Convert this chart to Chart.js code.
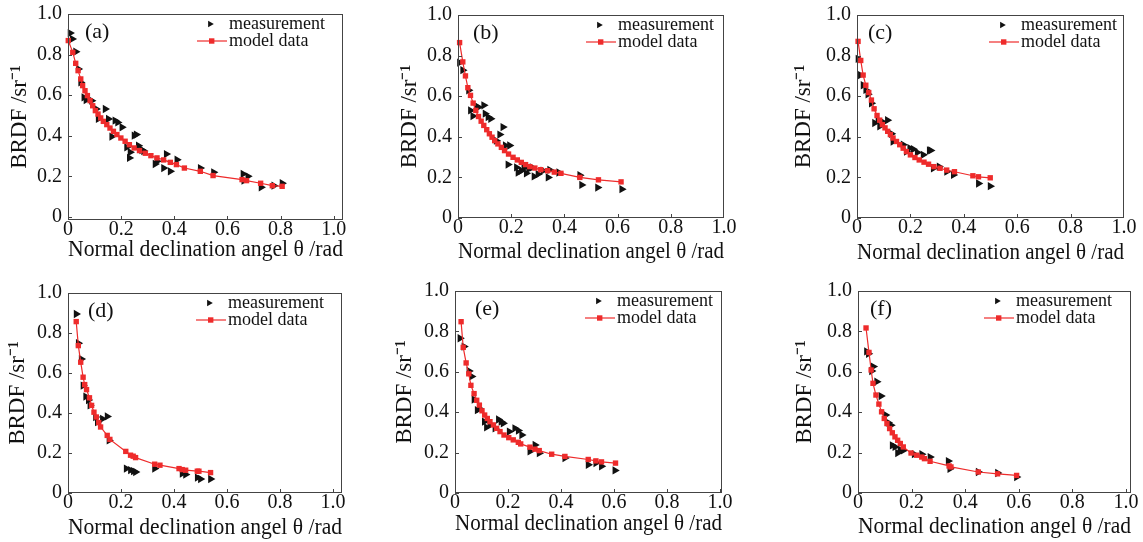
<!DOCTYPE html>
<html lang="en">
<head>
<meta charset="UTF-8">
<title>BRDF vs normal declination angle</title>
<style>
    body {
        margin: 0;
        background: #fff;
        width: 1143px;
        height: 542px;
        overflow: hidden;
        position: relative;
    }
    .panel {
        position: absolute;
    }
</style>
<script src="https://cdn.jsdelivr.net/npm/chart.js"></script>
</head>
<body>
<script>
// tick labels shared by every panel
const xTicks = [0, 0.2, 0.4, 0.6, 0.8, 1.0];
const yTicks = [0, 0.2, 0.4, 0.6, 0.8, 1.0];
const panelLabels = ['(a)', '(b)', '(c)', '(d)', '(e)', '(f)'];
const seriesNames = ['measurement', 'model data'];

// (a)
const aMeasX = [0.008, 0.016, 0.029, 0.039, 0.048, 0.060, 0.068, 0.089, 0.106, 0.114, 0.140, 0.152, 0.177, 0.187, 0.165, 0.203, 0.221, 0.234, 0.231, 0.249, 0.257, 0.265, 0.278, 0.285, 0.328, 0.335, 0.360, 0.370, 0.385, 0.410, 0.498, 0.548, 0.659, 0.677, 0.662, 0.727, 0.775, 0.806];
const aMeasY = [0.906, 0.877, 0.814, 0.729, 0.663, 0.589, 0.576, 0.573, 0.532, 0.483, 0.532, 0.483, 0.475, 0.466, 0.396, 0.442, 0.343, 0.319, 0.291, 0.401, 0.406, 0.351, 0.330, 0.325, 0.261, 0.274, 0.241, 0.310, 0.225, 0.282, 0.241, 0.220, 0.212, 0.200, 0.179, 0.146, 0.154, 0.166];
const aModelX = [0.001, 0.018, 0.029, 0.038, 0.048, 0.055, 0.064, 0.073, 0.083, 0.093, 0.103, 0.113, 0.123, 0.133, 0.146, 0.158, 0.171, 0.184, 0.199, 0.215, 0.231, 0.249, 0.269, 0.291, 0.312, 0.335, 0.360, 0.385, 0.408, 0.438, 0.498, 0.546, 0.655, 0.672, 0.725, 0.769, 0.806];
const aModelY = [0.869, 0.811, 0.757, 0.721, 0.680, 0.647, 0.622, 0.598, 0.573, 0.548, 0.524, 0.507, 0.488, 0.471, 0.455, 0.438, 0.422, 0.406, 0.389, 0.373, 0.356, 0.340, 0.327, 0.314, 0.302, 0.291, 0.281, 0.269, 0.258, 0.241, 0.225, 0.204, 0.184, 0.179, 0.166, 0.154, 0.151];

// (b)
const bMeasX = [0.006, 0.018, 0.040, 0.047, 0.056, 0.069, 0.077, 0.097, 0.102, 0.113, 0.123, 0.144, 0.157, 0.169, 0.178, 0.194, 0.188, 0.220, 0.226, 0.238, 0.257, 0.248, 0.266, 0.279, 0.286, 0.301, 0.320, 0.339, 0.345, 0.379, 0.458, 0.465, 0.525, 0.616];
const bMeasY = [0.765, 0.728, 0.629, 0.530, 0.502, 0.550, 0.546, 0.555, 0.514, 0.497, 0.489, 0.381, 0.411, 0.448, 0.357, 0.357, 0.263, 0.249, 0.224, 0.233, 0.220, 0.246, 0.241, 0.249, 0.205, 0.216, 0.233, 0.200, 0.237, 0.224, 0.211, 0.163, 0.150, 0.142];
const bModelX = [0.006, 0.018, 0.028, 0.037, 0.047, 0.057, 0.067, 0.077, 0.087, 0.097, 0.108, 0.118, 0.128, 0.138, 0.150, 0.163, 0.175, 0.190, 0.207, 0.223, 0.238, 0.254, 0.270, 0.289, 0.311, 0.337, 0.362, 0.387, 0.458, 0.528, 0.613];
const bModelY = [0.864, 0.769, 0.700, 0.642, 0.604, 0.566, 0.530, 0.500, 0.477, 0.456, 0.435, 0.415, 0.398, 0.381, 0.365, 0.348, 0.332, 0.315, 0.299, 0.286, 0.274, 0.263, 0.253, 0.246, 0.238, 0.233, 0.226, 0.220, 0.200, 0.188, 0.178];

// (c)
const cMeasX = [0.004, 0.013, 0.023, 0.033, 0.041, 0.054, 0.066, 0.079, 0.085, 0.098, 0.114, 0.129, 0.135, 0.173, 0.185, 0.198, 0.211, 0.226, 0.248, 0.271, 0.276, 0.286, 0.308, 0.336, 0.361, 0.455, 0.499];
const cMeasY = [0.784, 0.704, 0.654, 0.631, 0.609, 0.565, 0.468, 0.482, 0.452, 0.472, 0.482, 0.415, 0.377, 0.361, 0.327, 0.344, 0.339, 0.323, 0.311, 0.333, 0.333, 0.245, 0.253, 0.228, 0.212, 0.170, 0.157];
const cModelX = [0.004, 0.014, 0.023, 0.033, 0.044, 0.054, 0.064, 0.075, 0.085, 0.095, 0.105, 0.115, 0.125, 0.135, 0.148, 0.160, 0.173, 0.185, 0.200, 0.217, 0.233, 0.251, 0.268, 0.288, 0.311, 0.336, 0.365, 0.434, 0.455, 0.499];
const cModelY = [0.870, 0.776, 0.704, 0.654, 0.618, 0.581, 0.538, 0.505, 0.482, 0.460, 0.444, 0.427, 0.411, 0.394, 0.377, 0.361, 0.344, 0.327, 0.311, 0.298, 0.286, 0.275, 0.265, 0.253, 0.245, 0.236, 0.228, 0.208, 0.203, 0.198];

// (d)
const dMeasX = [0.031, 0.039, 0.050, 0.057, 0.067, 0.077, 0.083, 0.104, 0.111, 0.130, 0.148, 0.155, 0.220, 0.236, 0.247, 0.255, 0.327, 0.431, 0.444, 0.488, 0.500, 0.538];
const dMeasY = [0.895, 0.749, 0.670, 0.537, 0.482, 0.465, 0.438, 0.380, 0.355, 0.371, 0.383, 0.263, 0.122, 0.114, 0.109, 0.105, 0.122, 0.097, 0.092, 0.077, 0.070, 0.070];
const dModelX = [0.031, 0.039, 0.048, 0.057, 0.063, 0.070, 0.081, 0.089, 0.098, 0.107, 0.116, 0.123, 0.148, 0.158, 0.218, 0.236, 0.246, 0.255, 0.327, 0.347, 0.419, 0.431, 0.444, 0.488, 0.494, 0.538];
const dModelY = [0.857, 0.737, 0.654, 0.579, 0.542, 0.517, 0.476, 0.438, 0.404, 0.380, 0.352, 0.330, 0.288, 0.268, 0.208, 0.189, 0.184, 0.177, 0.144, 0.139, 0.122, 0.117, 0.114, 0.109, 0.109, 0.102];

// (e)
const eMeasX = [0.019, 0.034, 0.053, 0.063, 0.072, 0.084, 0.092, 0.111, 0.119, 0.132, 0.151, 0.164, 0.174, 0.182, 0.205, 0.226, 0.239, 0.252, 0.283, 0.302, 0.318, 0.415, 0.503, 0.532, 0.553, 0.604];
const eMeasY = [0.766, 0.725, 0.604, 0.577, 0.463, 0.410, 0.418, 0.353, 0.325, 0.337, 0.320, 0.364, 0.353, 0.345, 0.304, 0.320, 0.309, 0.287, 0.206, 0.238, 0.197, 0.173, 0.140, 0.148, 0.132, 0.112];
const eModelX = [0.023, 0.031, 0.042, 0.052, 0.060, 0.072, 0.082, 0.092, 0.102, 0.112, 0.122, 0.132, 0.145, 0.157, 0.170, 0.185, 0.203, 0.220, 0.239, 0.248, 0.283, 0.302, 0.318, 0.365, 0.415, 0.503, 0.532, 0.553, 0.606];
const eModelY = [0.848, 0.721, 0.644, 0.590, 0.533, 0.492, 0.459, 0.435, 0.407, 0.386, 0.369, 0.353, 0.337, 0.320, 0.304, 0.287, 0.274, 0.263, 0.251, 0.243, 0.227, 0.217, 0.210, 0.192, 0.181, 0.166, 0.159, 0.154, 0.148];

// (f)
const fMeasX = [0.032, 0.039, 0.051, 0.057, 0.070, 0.086, 0.103, 0.113, 0.123, 0.128, 0.138, 0.148, 0.157, 0.169, 0.210, 0.238, 0.269, 0.337, 0.343, 0.449, 0.521, 0.592];
const fMeasY = [0.701, 0.689, 0.604, 0.626, 0.551, 0.480, 0.386, 0.348, 0.336, 0.236, 0.228, 0.198, 0.215, 0.211, 0.192, 0.192, 0.178, 0.158, 0.120, 0.104, 0.099, 0.079];
const fModelX = [0.030, 0.041, 0.049, 0.056, 0.067, 0.078, 0.088, 0.098, 0.108, 0.118, 0.128, 0.138, 0.148, 0.158, 0.169, 0.198, 0.219, 0.238, 0.248, 0.269, 0.340, 0.347, 0.449, 0.521, 0.592];
const fModelY = [0.817, 0.696, 0.609, 0.543, 0.485, 0.440, 0.402, 0.369, 0.344, 0.319, 0.298, 0.278, 0.261, 0.245, 0.228, 0.198, 0.187, 0.178, 0.170, 0.157, 0.134, 0.129, 0.104, 0.095, 0.087];

const series = [
    [aMeasX, aMeasY, aModelX, aModelY],
    [bMeasX, bMeasY, bModelX, bModelY],
    [cMeasX, cMeasY, cModelX, cModelY],
    [dMeasX, dMeasY, dModelX, dModelY],
    [eMeasX, eMeasY, eModelX, eModelY],
    [fMeasX, fMeasY, fModelX, fModelY]
];

// plot-area boxes on the page, and a few per-panel offsets
const layout = [
    {L: 68,  T: 14,  R: 343,  B: 220, xMax: 1.035, yMin: -0.015, yGap: 48, xGap: 30, legendDx: 114, labelDx: 17},
    {L: 458, T: 15,  R: 724,  B: 218, xMax: 1.0,   yMin: 0,      yGap: 48, xGap: 34, legendDx: 106, labelDx: 15},
    {L: 857, T: 15,  R: 1124, B: 218, xMax: 1.0,   yMin: 0,      yGap: 53, xGap: 35, legendDx: 103, labelDx: 11},
    {L: 68,  T: 293, R: 342,  B: 493, xMax: 1.034, yMin: 0,      yGap: 50, xGap: 35, legendDx: 114, labelDx: 20},
    {L: 455, T: 291, R: 722,  B: 493, xMax: 1.008, yMin: 0,      yGap: 50, xGap: 31, legendDx: 105, labelDx: 20},
    {L: 858, T: 291, R: 1131, B: 493, xMax: 1.019, yMin: 0,      yGap: 53, xGap: 34, legendDx: 115, labelDx: 12}
];

const PAD_L = 68, PAD_T = 20, PAD_R = 20, PAD_B = 50;
const FONT = '"Liberation Serif", "Times New Roman", serif';
const TITLE_SIZE = 23;
const RED = '#ee2b2b';
const BLACK = '#111';

function toPoints(xs, ys) {
    return xs.map((x, i) => ({x: x, y: ys[i]}));
}

function fmt(v) {
    return v === 0 ? '0' : v.toFixed(1);
}

function triangleRight(ctx, x, y, r) {
    ctx.beginPath();
    ctx.moveTo(x + r, y);
    ctx.lineTo(x - r * 0.5, y - r * 0.866);
    ctx.lineTo(x - r * 0.5, y + r * 0.866);
    ctx.closePath();
    ctx.fill();
}

// box, inward ticks, legend and panel letter
const framePlugin = {
    id: 'frame',
    afterDraw(chart, args, opts) {
        const ctx = chart.ctx;
        const a = chart.chartArea;
        const xs = chart.scales.x, ys = chart.scales.y;
        ctx.save();
        ctx.strokeStyle = '#444';
        ctx.lineWidth = 1;
        ctx.strokeRect(Math.round(a.left) + 0.5, Math.round(a.top) + 0.5,
            Math.round(a.right - a.left) - 1, Math.round(a.bottom - a.top) - 1);
        ctx.beginPath();
        yTicks.forEach(v => {
            const py = Math.round(ys.getPixelForValue(v)) + 0.5;
            ctx.moveTo(a.left, py);
            ctx.lineTo(a.left + 4, py);
        });
        xTicks.forEach(v => {
            const px = Math.round(xs.getPixelForValue(v)) + 0.5;
            if (px > a.right - 1) return;
            ctx.moveTo(px, a.bottom);
            ctx.lineTo(px, a.bottom - 4);
        });
        ctx.stroke();

        // legend
        const lx = a.right - opts.legendDx;
        const y1 = a.top + 10, y2 = a.top + 27;
        ctx.font = '18px ' + FONT;
        ctx.fillStyle = BLACK;
        ctx.textBaseline = 'middle';
        ctx.textAlign = 'left';
        ctx.fillText(seriesNames[0], lx, y1);
        ctx.fillText(seriesNames[1], lx, y2);
        triangleRight(ctx, lx - 19, y1, 3.8);
        ctx.strokeStyle = RED;
        ctx.lineWidth = 1.2;
        ctx.beginPath();
        ctx.moveTo(lx - 32, y2);
        ctx.lineTo(lx - 2, y2);
        ctx.stroke();
        ctx.fillStyle = RED;
        ctx.fillRect(lx - 20, y2 - 2.7, 5.4, 5.4);

        // panel letter
        ctx.font = '22px ' + FONT;
        ctx.fillStyle = BLACK;
        ctx.fillText(opts.label, a.left + opts.labelDx, a.top + 18);
        ctx.restore();
    }
};

layout.forEach((p, i) => {
    const [measX, measY, modelX, modelY] = series[i];
    const div = document.createElement('div');
    div.className = 'panel';
    const w = p.R - p.L + PAD_L + PAD_R;
    const h = p.B - p.T + PAD_T + PAD_B;
    div.style.left = (p.L - PAD_L) + 'px';
    div.style.top = (p.T - PAD_T) + 'px';
    div.style.width = w + 'px';
    div.style.height = h + 'px';
    const canvas = document.createElement('canvas');
    div.appendChild(canvas);
    document.body.appendChild(div);

    new Chart(canvas, {
        type: 'scatter',
        data: {
            datasets: [{
                label: seriesNames[1],
                data: toPoints(modelX, modelY),
                showLine: true,
                borderColor: RED,
                borderWidth: 1.2,
                backgroundColor: RED,
                pointStyle: 'rect',
                pointRadius: 3.8,
                pointBorderWidth: 0,
                order: 0,
                clip: false
            }, {
                label: seriesNames[0],
                data: toPoints(measX, measY),
                pointStyle: 'triangle',
                pointRotation: 90,
                pointRadius: 4.8,
                backgroundColor: BLACK,
                borderColor: BLACK,
                pointBorderWidth: 0,
                order: 1,
                clip: false
            }]
        },
        options: {
            responsive: true,
            maintainAspectRatio: false,
            animation: false,
            layout: {padding: {left: 0, top: PAD_T, right: PAD_R, bottom: 0}},
            plugins: {
                legend: {display: false},
                tooltip: {enabled: false},
                frame: {legendDx: p.legendDx, labelDx: p.labelDx, label: panelLabels[i]}
            },
            scales: {
                x: {
                    type: 'linear',
                    min: 0,
                    max: p.xMax,
                    afterBuildTicks: s => { s.ticks = xTicks.map(v => ({value: v})); },
                    afterFit: s => { s.height = PAD_B; },
                    grid: {display: false, drawTicks: false},
                    border: {display: false},
                    ticks: {
                        color: BLACK,
                        padding: 0,
                        maxRotation: 0,
                        font: {family: FONT, size: 20, lineHeight: 1},
                        callback: v => fmt(v)
                    },
                    title: {
                        display: true,
                        text: 'Normal declination angel θ /rad',
                        color: BLACK,
                        font: {family: FONT, size: TITLE_SIZE, lineHeight: 1},
                        padding: {top: 0, bottom: PAD_B - p.xGap - TITLE_SIZE / 2}
                    }
                },
                y: {
                    type: 'linear',
                    min: p.yMin,
                    max: 1.0,
                    afterBuildTicks: s => { s.ticks = yTicks.map(v => ({value: v})); },
                    afterFit: s => { s.width = PAD_L; },
                    grid: {display: false, drawTicks: false},
                    border: {display: false},
                    ticks: {
                        color: BLACK,
                        padding: 6,
                        font: {family: FONT, size: 20, lineHeight: 1},
                        callback: v => fmt(v)
                    },
                    title: {
                        display: true,
                        text: 'BRDF /sr⁻¹',
                        color: BLACK,
                        font: {family: FONT, size: TITLE_SIZE, lineHeight: 1},
                        padding: {top: PAD_L - p.yGap - TITLE_SIZE / 2, bottom: 0}
                    }
                }
            }
        },
        plugins: [framePlugin]
    });
});
</script>
</body>
</html>
